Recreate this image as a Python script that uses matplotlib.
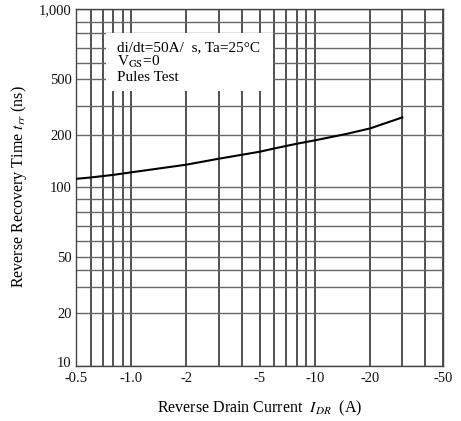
import numpy as np
import matplotlib
matplotlib.use('Agg')
import matplotlib.pyplot as plt
from matplotlib.ticker import FixedLocator, FixedFormatter, NullFormatter
from matplotlib.patches import Rectangle
from matplotlib.transforms import ScaledTranslation

plt.rcParams['font.family'] = ['Liberation Serif', 'DejaVu Serif']
plt.rcParams['mathtext.fontset'] = 'stix'

# curve: reverse drain current (A, magnitude) vs trr (ns)
current = [0.5, 0.6, 0.8, 1, 2, 3, 5, 6, 8, 10, 15, 20, 30]
trr = [111, 113, 117, 121, 134, 145, 159, 166, 177, 185, 202, 218, 255]

x_ticks = [0.5, 1, 2, 5, 10, 20, 50]
x_labels = ['-0.5', '-1.0', '-2', '-5', '-10', '-20', '-50']
x_minor = [0.6, 0.7, 0.8, 0.9, 3, 4, 6, 7, 8, 9, 30, 40]

y_ticks = [10, 20, 50, 100, 200, 500, 1000]
y_labels = ['10', '20', '50', '100', '200', '500', '1,000']
y_minor = [30, 40, 60, 70, 80, 90, 300, 600, 700, 800, 900]

# the scanned graph paper is not a clean log scale, so the y axis follows
# where each grid line sits on the sheet (fraction of the plot height)
paper_vals = [10, 20, 30, 40, 50, 60, 70, 80, 90, 100,
              200, 300, 500, 600, 700, 800, 900, 1000]
paper_pos = [0, 0.1494, 0.2223, 0.2691, 0.3064, 0.3504, 0.3933, 0.4309, 0.4682,
             0.5027, 0.649, 0.7289, 0.8046, 0.8486, 0.8907, 0.9327, 0.9652, 1.0]
lv = np.log10(paper_vals)


def paper_fwd(v):
    v = np.clip(np.asarray(v, dtype=float), 1e-6, None)
    return np.interp(np.log10(v), lv, paper_pos)


def paper_inv(u):
    return 10 ** np.interp(np.asarray(u, dtype=float), paper_pos, lv)


fig = plt.figure(figsize=(4.61, 4.21), dpi=100)
ax = fig.add_axes([76 / 461, 55 / 421, 367 / 461, 356.7 / 421])

ax.set_xscale('log')
ax.set_yscale('function', functions=(paper_fwd, paper_inv))
ax.set_xlim(0.5, 50)
ax.set_ylim(10, 1000)

ax.xaxis.set_major_locator(FixedLocator(x_ticks))
ax.xaxis.set_major_formatter(FixedFormatter(x_labels))
ax.xaxis.set_minor_locator(FixedLocator(x_minor))
ax.xaxis.set_minor_formatter(NullFormatter())
ax.yaxis.set_major_locator(FixedLocator(y_ticks))
ax.yaxis.set_major_formatter(FixedFormatter(y_labels))
ax.yaxis.set_minor_locator(FixedLocator(y_minor))
ax.yaxis.set_minor_formatter(NullFormatter())

ax.tick_params(which='both', length=0, labelsize=10.5, colors='#111')
ax.tick_params(axis='x', pad=4)
ax.tick_params(axis='y', pad=3)

# lift the bottom "10" a little so it sits clear of "-0.5", as on the sheet
lab10 = ax.yaxis.get_majorticklabels()[0]
lab10.set_transform(lab10.get_transform() + ScaledTranslation(0, 3 / 72, fig.dpi_scale_trans))

ax.grid(True, axis='x', which='both', color='#222', lw=1.1)
ax.grid(True, axis='y', which='both', color='#666', lw=1.0)
ax.set_axisbelow(True)
for s in ax.spines.values():
    s.set_color('#444')
    s.set_linewidth(1.0)

ax.plot(current, trr, color='black', lw=1.5, zorder=3)

# white patch where the test conditions are written over the grid
ax.add_patch(Rectangle((0.082, 0.771), 0.455, 0.163, transform=ax.transAxes,
                       facecolor='white', edgecolor='none', zorder=2))
ax.text(0.112, 0.893, 'di/dt=50A/  s, Ta=25°C', transform=ax.transAxes,
        fontsize=11, va='center', zorder=4)
ax.text(0.112, 0.851, r'V$_{\mathrm{GS}}$=0', transform=ax.transAxes,
        fontsize=11, va='center', zorder=4)
ax.text(0.112, 0.808, 'Pules Test', transform=ax.transAxes,
        fontsize=11, va='center', zorder=4)

ax.set_xlabel(r'Reverse Drain Current  $I_{DR}$  (A)', fontsize=11.5)
ax.set_ylabel(r'Reverse Recovery Time $t_{rr}$ (ns)', fontsize=11.5)
ax.xaxis.set_label_coords(0.501, -0.092)
ax.yaxis.set_label_coords(-0.128, 0.502)

fig.savefig('out.png', dpi=100)
